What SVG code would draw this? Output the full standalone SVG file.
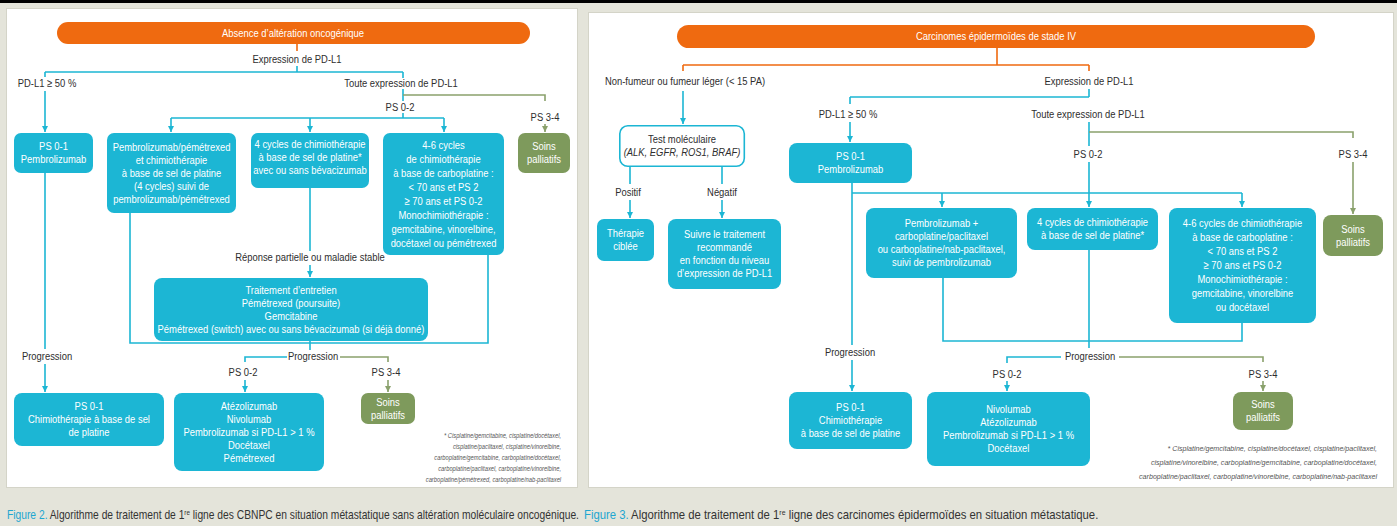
<svg xmlns="http://www.w3.org/2000/svg" width="1397" height="526" viewBox="0 0 1397 526">
<style>
.t{font-family:"Liberation Sans",Arial,sans-serif;font-size:11.5px;fill:#2e2e2e;text-anchor:middle;transform:scaleX(0.82);transform-box:fill-box;transform-origin:50% 50%}
.w{fill:#ffffff}
.it{font-style:italic}
.fn{font-family:"Liberation Sans",Arial,sans-serif;font-size:7.5px;font-style:italic;fill:#555;text-anchor:end;transform:scaleX(0.77);transform-box:fill-box;transform-origin:100% 50%}
.fn2{font-size:8px;transform:scaleX(0.89)}
.cap{font-family:"Liberation Sans",Arial,sans-serif;font-size:13px;fill:#333;transform:scaleX(0.79);transform-box:fill-box;transform-origin:0% 50%}
.cap2{transform:scaleX(0.87)}
.box{fill:#1cb6d4}
.gbox{fill:#7e9a5c}
.obox{fill:#ef6a10}
.bl{stroke:#1cb6d4;stroke-width:1.6;fill:none}
.gl{stroke:#8aa16c;stroke-width:1.6;fill:none}
.ol{stroke:#ef6a10;stroke-width:1.6;fill:none}
.ba{marker-end:url(#ab)}
.ga{marker-end:url(#ag)}
</style>
<defs>
<marker id="ab" markerUnits="userSpaceOnUse" markerWidth="7" markerHeight="6" refX="6" refY="3" orient="auto"><path d="M0,0 L6,3 L0,6 z" fill="#1cb6d4"/></marker>
<marker id="ag" markerUnits="userSpaceOnUse" markerWidth="7" markerHeight="6" refX="6" refY="3" orient="auto"><path d="M0,0 L6,3 L0,6 z" fill="#8aa16c"/></marker>
</defs>
<rect x="0" y="0" width="1397" height="526" fill="#e4e4da"/>
<rect x="0" y="0" width="1397" height="3" fill="#000"/>
<rect x="6.5" y="8.5" width="571" height="479" fill="#fff" stroke="#d4d4c8"/>
<rect x="588.5" y="12.5" width="805" height="475" fill="#fff" stroke="#d4d4c8"/>

<g id="connectors">
<path class="ol" d="M297,44 V51"/>
<path class="bl" d="M297,66 V72 M45,72 H403 M45,72 V77 M403,72 V78"/>
<path class="bl ba" d="M45,91 V132"/>
<path class="bl" d="M403,89 V101 M403,113 V118 M171,118 H444"/>
<path class="gl" d="M403,95 H545 V101"/>
<path class="gl ga" d="M545,124 V132"/>
<path class="bl ba" d="M171,118 V132"/>
<path class="bl ba" d="M310,118 V132"/>
<path class="bl ba" d="M444,118 V132"/>
<path class="bl" d="M45,173 V349"/>
<path class="bl ba" d="M45,364 V392"/>
<path class="bl" d="M130,213 V343 H488 V255"/>
<path class="bl" d="M310,188 V251"/>
<path class="bl ba" d="M310,265 V277"/>
<path class="bl" d="M310,341 V350"/>
<path class="bl" d="M287,357 H245 V362"/>
<path class="bl ba" d="M245,380 V392"/>
<path class="gl" d="M340,357 H388 V362"/>
<path class="gl ga" d="M388,380 V392"/>
<path class="ol" d="M997,48 V65 M683,65 H1089 M683,65 V71 M1089,65 V71"/>
<path class="bl ba" d="M683,91 V124"/>
<path class="bl" d="M1089,89 V97 M850,97 H1089 M850,97 V104"/>
<path class="bl ba" d="M850,122 V142"/>
<path class="bl" d="M1089,122 V146 M1089,162 V193 M852,193 H1242"/>
<path class="gl" d="M1089,132 H1353 V138"/>
<path class="gl ga" d="M1353,162 V214"/>
<path class="bl ba" d="M942,193 V207"/>
<path class="bl ba" d="M1089,193 V207"/>
<path class="bl ba" d="M1242,193 V207"/>
<path class="bl" d="M852,183 V345"/>
<path class="bl ba" d="M852,360 V391"/>
<path class="bl" d="M943,278 V341 H1242 V323"/>
<path class="bl" d="M1089,250 V348"/>
<path class="bl" d="M1061,357 H1007 V363"/>
<path class="bl ba" d="M1007,381 V391"/>
<path class="gl" d="M1119,357 H1263 V362"/>
<path class="gl ga" d="M1263,381 V391"/>
<path class="bl" d="M630,166 V184 M722,166 V184"/>
<path class="bl ba" d="M630,200 V218"/>
<path class="bl ba" d="M722,200 V218"/>
</g>

<g id="labels">
<text class="t" x="297" y="63">Expression de PD-L1</text>
<text class="t" x="47" y="87">PD-L1 ≥ 50 %</text>
<text class="t" x="401" y="87">Toute expression de PD-L1</text>
<text class="t" x="400" y="111">PS 0-2</text>
<text class="t" x="545" y="121">PS 3-4</text>
<text class="t" x="310" y="261">Réponse partielle ou maladie stable</text>
<text class="t" x="47" y="360">Progression</text>
<text class="t" x="313" y="360">Progression</text>
<text class="t" x="243" y="376">PS 0-2</text>
<text class="t" x="386" y="376">PS 3-4</text>
<text class="t" x="685" y="85">Non-fumeur ou fumeur léger (&lt; 15 PA)</text>
<text class="t" x="1089" y="85">Expression de PD-L1</text>
<text class="t" x="848" y="118">PD-L1 ≥ 50 %</text>
<text class="t" x="1088" y="118">Toute expression de PD-L1</text>
<text class="t" x="1088" y="158">PS 0-2</text>
<text class="t" x="1353" y="158">PS 3-4</text>
<text class="t" x="628" y="196">Positif</text>
<text class="t" x="722" y="196">Négatif</text>
<text class="t" x="850" y="356">Progression</text>
<text class="t" x="1090" y="360">Progression</text>
<text class="t" x="1007" y="378">PS 0-2</text>
<text class="t" x="1263" y="378">PS 3-4</text>
</g>

<g id="n-absence"><rect class="obox" x="57" y="22" width="473" height="22" rx="11"/><text class="t w" x="293" y="37">Absence d’altération oncogénique</text></g>
<g id="n-l-pembro"><rect class="box" x="14" y="133" width="79" height="40" rx="7"/><text class="t w" x="53.5" y="150.5">PS 0-1</text><text class="t w" x="53.5" y="163.5">Pembrolizumab</text></g>
<g id="n-l-pembropem"><rect class="box" x="107" y="133" width="129" height="80" rx="7"/><text class="t w" x="171.5" y="151">Pembrolizumab/pémétrexed</text><text class="t w" x="171.5" y="164">et chimiothérapie</text><text class="t w" x="171.5" y="177">à base de sel de platine</text><text class="t w" x="171.5" y="190">(4 cycles) suivi de</text><text class="t w" x="171.5" y="203">pembrolizumab/pémétrexed</text></g>
<g id="n-l-4cycles"><rect class="box" x="251" y="133" width="118" height="55" rx="7"/><text class="t w" x="310" y="148">4 cycles de chimiothérapie</text><text class="t w" x="310" y="161">à base de sel de platine*</text><text class="t w" x="310" y="174">avec ou sans bévacizumab</text></g>
<g id="n-l-46cycles"><rect class="box" x="383" y="133" width="121" height="122" rx="7"/><text class="t w" x="443.5" y="149">4-6 cycles</text><text class="t w" x="443.5" y="163">de chimiothérapie</text><text class="t w" x="443.5" y="177">à base de carboplatine :</text><text class="t w" x="443.5" y="191">&lt; 70 ans et PS 2</text><text class="t w" x="443.5" y="205">≥ 70 ans et PS 0-2</text><text class="t w" x="443.5" y="219">Monochimiothérapie :</text><text class="t w" x="443.5" y="233">gemcitabine, vinorelbine,</text><text class="t w" x="443.5" y="247">docétaxel ou pémétrexed</text></g>
<g id="n-l-soins1"><rect class="gbox" x="518" y="133" width="52" height="40" rx="7"/><text class="t w" x="544" y="150.5">Soins</text><text class="t w" x="544" y="163.5">palliatifs</text></g>
<g id="n-l-entretien"><rect class="box" x="154" y="278" width="274" height="63" rx="8"/><text class="t w" x="291" y="294">Traitement d’entretien</text><text class="t w" x="291" y="307">Pémétrexed (poursuite)</text><text class="t w" x="291" y="320">Gemcitabine</text><text class="t w" x="291" y="333">Pémétrexed (switch) avec ou sans bévacizumab (si déjà donné)</text></g>
<g id="n-l-chimio"><rect class="box" x="14" y="393" width="150" height="53" rx="8"/><text class="t w" x="89" y="410.5">PS 0-1</text><text class="t w" x="89" y="423.5">Chimiothérapie à base de sel</text><text class="t w" x="89" y="436.5">de platine</text></g>
<g id="n-l-atezo"><rect class="box" x="174" y="393" width="150" height="78" rx="8"/><text class="t w" x="249" y="410">Atézolizumab</text><text class="t w" x="249" y="423">Nivolumab</text><text class="t w" x="249" y="436">Pembrolizumab si PD-L1 &gt; 1 %</text><text class="t w" x="249" y="449">Docétaxel</text><text class="t w" x="249" y="462">Pémétrexed</text></g>
<g id="n-l-soins2"><rect class="gbox" x="361" y="393" width="54" height="31" rx="7"/><text class="t w" x="388" y="406">Soins</text><text class="t w" x="388" y="419">palliatifs</text></g>
<g id="n-l-note">
<text class="fn" x="561" y="438">* Cisplatine/gemcitabine, cisplatine/docétaxel,</text>
<text class="fn" x="561" y="449">cisplatine/paclitaxel, cisplatine/vinorelbine,</text>
<text class="fn" x="561" y="460">carboplatine/gemcitabine, carboplatine/docétaxel,</text>
<text class="fn" x="561" y="471">carboplatine/paclitaxel, carboplatine/vinorelbine,</text>
<text class="fn" x="561" y="482">carboplatine/pémétrexed, carboplatine/nab-paclitaxel</text>
</g>

<g id="n-carcinomes"><rect class="obox" x="677" y="25" width="638" height="23" rx="11.5"/><text class="t w" x="996" y="40.5">Carcinomes épidermoïdes de stade IV</text></g>
<g id="n-r-test"><rect x="619.8" y="125.8" width="124.5" height="40.5" rx="8" fill="#fff" stroke="#1cb6d4" stroke-width="1.6"/><text class="t" x="682" y="143">Test moléculaire</text><text class="t it" x="682" y="156">(ALK, EGFR, ROS1, BRAF)</text></g>
<g id="n-r-pembro"><rect class="box" x="789" y="143" width="123" height="40" rx="8"/><text class="t w" x="850.5" y="160.5">PS 0-1</text><text class="t w" x="850.5" y="173.5">Pembrolizumab</text></g>
<g id="n-r-ciblee"><rect class="box" x="597" y="219" width="57" height="42" rx="7"/><text class="t w" x="625.5" y="237.5">Thérapie</text><text class="t w" x="625.5" y="250.5">ciblée</text></g>
<g id="n-r-suivre"><rect class="box" x="668" y="219" width="113" height="70" rx="8"/><text class="t w" x="724.5" y="238.5">Suivre le traitement</text><text class="t w" x="724.5" y="251.5">recommandé</text><text class="t w" x="724.5" y="264.5">en fonction du niveau</text><text class="t w" x="724.5" y="277.5">d’expression de PD-L1</text></g>
<g id="n-r-pembroplus"><rect class="box" x="866" y="208" width="151" height="70" rx="8"/><text class="t w" x="941.5" y="227.5">Pembrolizumab +</text><text class="t w" x="941.5" y="240.5">carboplatine/paclitaxel</text><text class="t w" x="941.5" y="253.5">ou carboplatine/nab-paclitaxel,</text><text class="t w" x="941.5" y="266.5">suivi de pembrolizumab</text></g>
<g id="n-r-4cycles"><rect class="box" x="1027" y="208" width="131" height="42" rx="8"/><text class="t w" x="1092.5" y="226.5">4 cycles de chimiothérapie</text><text class="t w" x="1092.5" y="239.5">à base de sel de platine*</text></g>
<g id="n-r-46cycles"><rect class="box" x="1169" y="208" width="147" height="115" rx="8"/><text class="t w" x="1242.5" y="227.5">4-6 cycles de chimiothérapie</text><text class="t w" x="1242.5" y="241.5">à base de carboplatine :</text><text class="t w" x="1242.5" y="255.5">&lt; 70 ans et PS 2</text><text class="t w" x="1242.5" y="269.5">≥ 70 ans et PS 0-2</text><text class="t w" x="1242.5" y="283.5">Monochimiothérapie :</text><text class="t w" x="1242.5" y="297.5">gemcitabine, vinorelbine</text><text class="t w" x="1242.5" y="311.5">ou docétaxel</text></g>
<g id="n-r-soins1"><rect class="gbox" x="1323" y="215" width="60" height="41" rx="8"/><text class="t w" x="1353" y="233">Soins</text><text class="t w" x="1353" y="246">palliatifs</text></g>
<g id="n-r-chimio"><rect class="box" x="789" y="392" width="123" height="57" rx="8"/><text class="t w" x="850.5" y="411.5">PS 0-1</text><text class="t w" x="850.5" y="424.5">Chimiothérapie</text><text class="t w" x="850.5" y="437.5">à base de sel de platine</text></g>
<g id="n-r-nivo"><rect class="box" x="927" y="392" width="163" height="74" rx="8"/><text class="t w" x="1008.5" y="413.5">Nivolumab</text><text class="t w" x="1008.5" y="426.5">Atézolizumab</text><text class="t w" x="1008.5" y="439.5">Pembrolizumab si PD-L1 &gt; 1 %</text><text class="t w" x="1008.5" y="452.5">Docétaxel</text></g>
<g id="n-r-soins2"><rect class="gbox" x="1233" y="392" width="60" height="38" rx="8"/><text class="t w" x="1263" y="408">Soins</text><text class="t w" x="1263" y="421">palliatifs</text></g>
<g id="n-r-note">
<text class="fn fn2" x="1377" y="451">* Cisplatine/gemcitabine, cisplatine/docétaxel, cisplatine/paclitaxel,</text>
<text class="fn fn2" x="1377" y="465">cisplatine/vinorelbine, carboplatine/gemcitabine, carboplatine/docétaxel,</text>
<text class="fn fn2" x="1377" y="479">carboplatine/paclitaxel, carboplatine/vinorelbine, carboplatine/nab-paclitaxel</text>
</g>

<g id="captions">
<text class="cap" x="7" y="519"><tspan fill="#1ea6d0">Figure 2.</tspan> Algorithme de traitement de 1<tspan font-size="8" baseline-shift="super">re</tspan> ligne des CBNPC en situation métastatique sans altération moléculaire oncogénique.</text>
<text class="cap cap2" x="584" y="519"><tspan fill="#1ea6d0">Figure 3.</tspan> Algorithme de traitement de 1<tspan font-size="8" baseline-shift="super">re</tspan> ligne des carcinomes épidermoïdes en situation métastatique.</text>
</g>
</svg>
